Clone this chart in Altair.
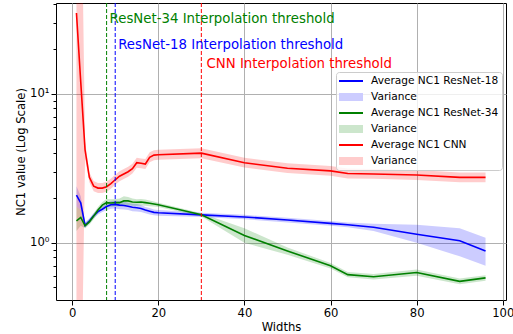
import altair as alt
import pandas as pd

# ---------------- data ----------------
widths = [1, 2, 3, 4, 5, 6, 7, 8, 9, 10, 11, 12, 13, 14, 15, 16, 17, 18, 19, 20,
          30, 40, 50, 60, 64, 70, 80, 90, 96]

r18_mean = [2.09, 1.85, 1.31, 1.40, 1.52, 1.62, 1.68, 1.75, 1.80, 1.81, 1.79, 1.78, 1.76, 1.73, 1.72,
            1.70, 1.66, 1.63, 1.60, 1.59, 1.54, 1.49, 1.42, 1.35, 1.32, 1.27, 1.14, 1.03, 0.88]
r18_lo = [1.75, 1.65, 1.26, 1.35, 1.46, 1.55, 1.61, 1.65, 1.69, 1.70, 1.68, 1.67, 1.66, 1.63, 1.62,
          1.61, 1.58, 1.55, 1.53, 1.52, 1.49, 1.44, 1.37, 1.30, 1.27, 1.20, 1.00, 0.81, 0.70]
r18_hi = [2.40, 2.05, 1.37, 1.46, 1.58, 1.69, 1.75, 1.85, 1.91, 1.92, 1.90, 1.89, 1.86, 1.83, 1.82,
          1.79, 1.74, 1.71, 1.67, 1.66, 1.59, 1.54, 1.47, 1.40, 1.37, 1.34, 1.32, 1.25, 1.08]

r34_mean = [1.40, 1.48, 1.30, 1.38, 1.51, 1.66, 1.79, 1.86, 1.85, 1.86, 1.86, 1.91, 1.91, 1.88, 1.87,
            1.88, 1.86, 1.84, 1.82, 1.80, 1.54, 1.12, 0.88, 0.70, 0.61, 0.59, 0.63, 0.55, 0.58]
r34_lo = [1.20, 1.30, 1.25, 1.32, 1.44, 1.58, 1.70, 1.75, 1.74, 1.75, 1.75, 1.78, 1.79, 1.77, 1.77,
          1.78, 1.77, 1.76, 1.75, 1.74, 1.50, 1.00, 0.83, 0.67, 0.585, 0.565, 0.60, 0.525, 0.555]
r34_hi = [1.75, 1.65, 1.35, 1.44, 1.58, 1.74, 1.88, 1.97, 1.96, 1.97, 1.98, 2.05, 2.03, 1.98, 1.96,
          1.97, 1.95, 1.92, 1.89, 1.86, 1.58, 1.25, 0.93, 0.73, 0.635, 0.615, 0.66, 0.575, 0.605]

cnn_mean = [35.0, 12.0, 4.2, 2.75, 2.40, 2.33, 2.33, 2.38, 2.50, 2.65, 2.80, 2.90, 3.00, 3.15, 3.45,
            3.42, 3.38, 3.75, 3.88, 3.90, 4.00, 3.45, 3.17, 3.04, 2.92, 2.90, 2.85, 2.75, 2.75]
cnn_lo = [0.05, 0.05, 3.70, 2.55, 2.22, 2.16, 2.16, 2.20, 2.31, 2.45, 2.59, 2.68, 2.78, 2.92, 3.19,
          3.17, 3.13, 3.47, 3.59, 3.61, 3.70, 3.20, 2.94, 2.82, 2.70, 2.69, 2.64, 2.55, 2.55]
cnn_hi = [500.0, 500.0, 4.80, 2.97, 2.60, 2.52, 2.52, 2.57, 2.70, 2.86, 3.02, 3.13, 3.24, 3.40, 3.73,
          3.69, 3.65, 4.05, 4.19, 4.21, 4.32, 3.73, 3.42, 3.28, 3.15, 3.13, 3.08, 2.97, 2.97]

series_names = ["ResNet-18", "ResNet-34", "CNN"]
line_colors = ["#0000ff", "#008000", "#ff0000"]

thr_x = [8, 10, 30]
thr_colors = ["#008000", "#0000ff", "#ff0000"]

ann_text = ["ResNet-34 Interpolation threshold", "ResNet-18 Interpolation threshold",
            "CNN Interpolation threshold"]
ann_x = [8.7, 10.7, 31.2]
ann_y = [30, 20, 15]
ann_colors = ["#008000", "#0000ff", "#ff0000"]

legend_keys = ["r18", "r18v", "r34", "r34v", "cnn", "cnnv"]
legend_labels = ["Average NC1 ResNet-18", "\u00a0Variance", "Average NC1 ResNet-34",
                 "\u00a0Variance", "Average NC1 CNN", "\u00a0Variance"]
legend_colors = ["#0000ff", "#ccccff", "#008000", "#cce6cc", "#ff0000", "#ffcccc"]
LINE_PATH = "M-1,-0.1667H3V0.1667H-1Z"
PATCH_PATH = "M-1,-0.6667H3V0.6667H-1Z"
legend_shapes = [LINE_PATH, PATCH_PATH, LINE_PATH, PATCH_PATH, LINE_PATH, PATCH_PATH]

y_tick_values = [0.5, 0.6, 0.7, 0.8, 0.9, 1, 2, 3, 4, 5, 6, 7, 8, 9, 10, 20, 30, 40]

# ---------------- tables ----------------
rows = []
for name, col, m, lo, hi in zip(series_names, line_colors,
                                [r18_mean, r34_mean, cnn_mean],
                                [r18_lo, r34_lo, cnn_lo],
                                [r18_hi, r34_hi, cnn_hi]):
    for w, a, b, c in zip(widths, m, lo, hi):
        rows.append({"series": name, "color": col, "width": w, "mean": a, "lo": b, "hi": c})
df = pd.DataFrame(rows)

thr_df = pd.DataFrame({"width": thr_x, "color": thr_colors})
ann_df = pd.DataFrame({"width": ann_x, "mean": ann_y, "text": ann_text, "color": ann_colors})
leg_df = pd.DataFrame({"key": legend_keys})

FONT = "DejaVu Sans"

x_scale = alt.Scale(domain=[-3.75, 100.75], nice=False, zero=False)
y_scale = alt.Scale(type="log", domain=[0.412, 40.9], nice=False)

major = "datum.value == 1 || datum.value == 10"
x_axis = alt.Axis(values=[0, 20, 40, 60, 80, 100], format="d", title="Widths",
                  grid=True, gridColor="#b0b0b0", gridWidth=1, domain=False,
                  tickColor="black", tickSize=5, tickWidth=1,
                  labelFont=FONT, labelFontSize=11.6, labelColor="black", labelPadding=2,
                  titleFont=FONT, titleFontSize=11.6, titleFontWeight="normal",
                  titleColor="black", titlePadding=3)
y_axis = alt.Axis(values=y_tick_values,
                  labelExpr="datum.value == 1 ? '10\u2070' : (datum.value == 10 ? '10\u00b9' : '')",
                  title="NC1 value (Log Scale)", labelOverlap=False,
                  grid=True, gridColor="#b0b0b0", gridWidth=1,
                  gridOpacity={"condition": {"test": major, "value": 1}, "value": 0},
                  domain=False, tickColor="black", tickWidth=1,
                  tickSize={"condition": {"test": major, "value": 5}, "value": 3},
                  labelFont=FONT, labelFontSize=11.6, labelColor="black", labelPadding=2,
                  titleFont=FONT, titleFontSize=11.6, titleFontWeight="normal",
                  titleColor="black", titlePadding=3)


def X(field):
    return alt.X(field, type="quantitative", scale=x_scale, axis=x_axis)


def Y(field):
    return alt.Y(field, type="quantitative", scale=y_scale, axis=y_axis)


label_expr = " : ".join(
    f"datum.value == '{k}' ? '{l}'" for k, l in zip(legend_keys, legend_labels)
) + " : ''"

leg_props = dict(title=None, orient="none", legendX=280, legendY=69,
                 fillColor="rgba(255,255,255,0.8)", strokeColor="#cccccc",
                 cornerRadius=3, padding=3, labelFont=FONT, labelFontSize=10.6,
                 labelColor="black", labelOffset=20, rowPadding=4,
                 symbolSize=144, symbolOpacity=1, symbolStrokeWidth=0,
                 labelExpr=label_expr)

# legend-only layer: its points sit outside the plot and are clipped away
legend_layer = alt.Chart(leg_df).mark_point(filled=True, opacity=1, clip=True).encode(
    x=alt.value(-500), y=alt.value(-500),
    color=alt.Color("key:N", scale=alt.Scale(domain=legend_keys, range=legend_colors),
                    legend=alt.Legend(**leg_props)),
    shape=alt.Shape("key:N", scale=alt.Scale(domain=legend_keys, range=legend_shapes),
                    legend=alt.Legend(**leg_props)),
)

bands = alt.Chart(df).mark_area(opacity=0.2, clip=True).encode(
    x=X("width"), y=Y("lo"), y2="hi",
    color=alt.Color("color:N", scale=None),
    detail="series:N",
)

lines = alt.Chart(df).mark_line(strokeWidth=1.6, clip=True).encode(
    x=X("width"), y=Y("mean"),
    color=alt.Color("color:N", scale=None),
    detail="series:N",
)

rules = alt.Chart(thr_df).mark_rule(strokeDash=[4, 2], strokeWidth=1).encode(
    x=X("width"),
    color=alt.Color("color:N", scale=None),
)

texts = alt.Chart(ann_df).mark_text(align="left", baseline="alphabetic", font=FONT,
                                    fontSize=13.3).encode(
    x=X("width"), y=Y("mean"), text="text:N",
    color=alt.Color("color:N", scale=None),
)

chart = alt.layer(legend_layer, bands, lines, rules, texts).resolve_scale(
    color="independent", shape="independent"
).properties(
    width=450, height=297,
    padding={"left": 56, "top": 3, "right": 7, "bottom": 34},
    autosize=alt.AutoSizeParams(type="none"),
    background="white",
).configure_view(stroke="black", strokeWidth=1)

chart.save("out.html", embed_options={"renderer": "svg", "actions": False})
